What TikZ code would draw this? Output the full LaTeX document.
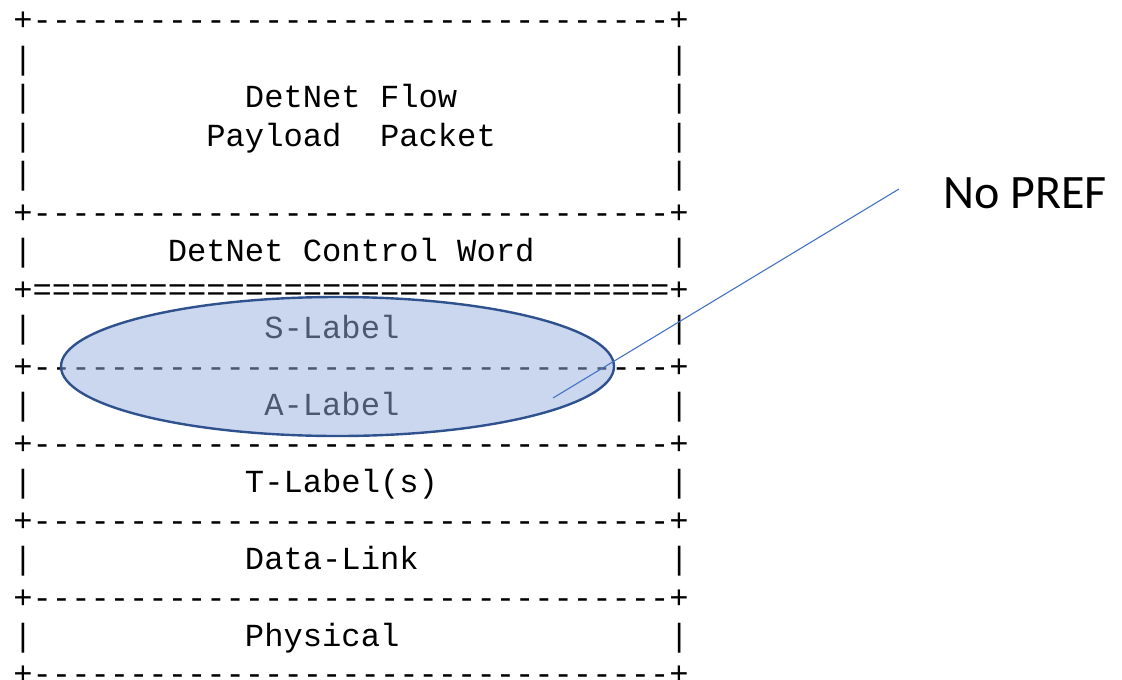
\documentclass[tikz,border=0pt]{standalone}
\usepackage{fontspec}
\newfontfamily\mono{Liberation Mono}
\newfontfamily\calfont{Carlito}
\usetikzlibrary{shapes.geometric}
\definecolor{ellfill}{RGB}{150,176,222}
\definecolor{elldraw}{RGB}{47,82,143}
\definecolor{leader}{RGB}{68,114,196}
\newdimen\cw \cw=19.3pt
\newcommand\sk[1]{\hspace*{#1\cw}}
\newcommand\rep[2]{\foreach\k in {1,...,#1}{#2}}
\newcommand\dashline{+\rep{33}{-}+}
\newcommand\eqline{+\rep{33}{=}+}
\tikzset{
  row/.style={font=\mono\fontsize{32.16}{38.5}\selectfont, anchor=base west, inner sep=0pt, outer sep=0pt},
  ellipsebox/.style={ellipse, draw=elldraw, line width=2.4pt, fill=ellfill, fill opacity=0.5, draw opacity=1, inner sep=0pt},
  leaderline/.style={draw=leader, line width=1.1pt},
  note/.style={font=\calfont\fontsize{48}{56}\selectfont, anchor=base west, inner sep=0pt}
}
\begin{document}
\begin{tikzpicture}[x=1pt,y=-1pt]
\useasboundingbox (0,0) rectangle (1122,680);
\path
 (13.4,30.5)  node[row] (r0)  {\dashline}
 (13.4,69.0)  node[row] (r1)  {|\sk{33}|}
 (13.4,107.5) node[row] (r2)  {|\sk{11}DetNet Flow\sk{11}|}
 (13.4,146.0) node[row] (r3)  {|\sk{9}Payload\sk{2}Packet\sk{9}|}
 (13.4,184.5) node[row] (r4)  {|\sk{33}|}
 (13.4,223.0) node[row] (r5)  {\dashline}
 (13.4,261.5) node[row] (r6)  {|\sk{7}DetNet Control Word\sk{7}|}
 (13.4,300.0) node[row] (r7)  {\eqline}
 (13.4,338.5) node[row] (r8)  {|\sk{12}S-Label\sk{14}|}
 (13.4,377.0) node[row] (r9)  {\dashline}
 (13.4,415.5) node[row] (r10) {|\sk{12}A-Label\sk{14}|}
 (13.4,454.0) node[row] (r11) {\dashline}
 (13.4,492.5) node[row] (r12) {|\sk{11}T-Label(s)\sk{12}|}
 (13.4,531.0) node[row] (r13) {\dashline}
 (13.4,569.5) node[row] (r14) {|\sk{11}Data-Link\sk{13}|}
 (13.4,608.0) node[row] (r15) {\dashline}
 (13.4,646.5) node[row] (r16) {|\sk{11}Physical\sk{14}|}
 (13.4,684.5) node[row] (r17) {\dashline};
\node[ellipsebox, minimum width=553pt, minimum height=139pt] (ell) at (337.5,366.5) {};
\node[note] (pref) at (943,208) {No PREF};
\coordinate (p) at (553,398);
\coordinate (q) at (899,189);
\draw[leaderline] (p) -- (q);
\end{tikzpicture}
\end{document}
